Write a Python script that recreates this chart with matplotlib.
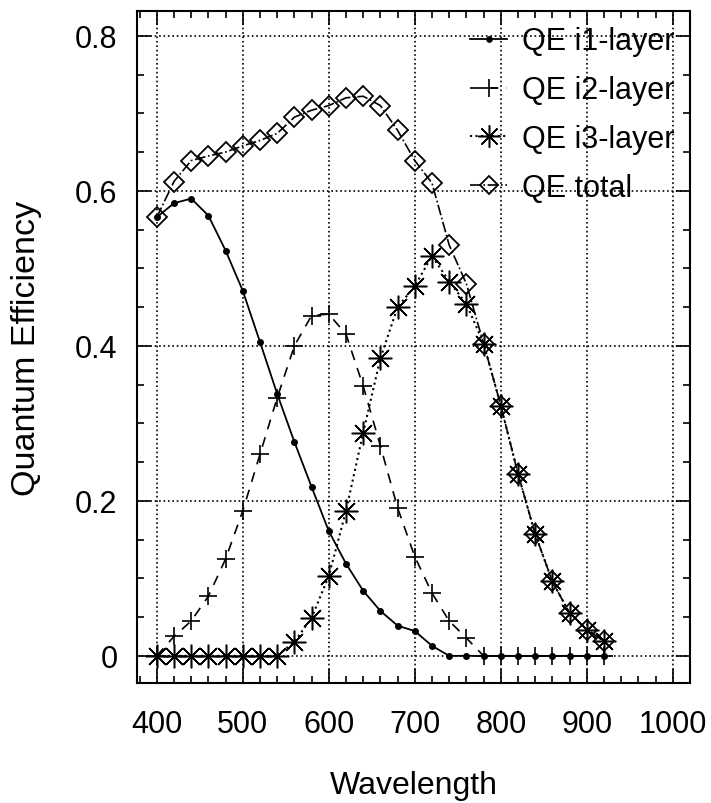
import matplotlib
matplotlib.use("Agg")
import matplotlib.pyplot as plt
from matplotlib.ticker import MultipleLocator

plt.rcParams['font.family'] = ['Liberation Sans', 'DejaVu Sans']

# wavelength grid (nm)
wavelength = list(range(400, 940, 20))

qe_i1 = [0.566, 0.584, 0.590, 0.568, 0.523, 0.471, 0.405, 0.338, 0.276, 0.218,
         0.161, 0.119, 0.084, 0.058, 0.039, 0.032, 0.013, 0.0, 0.0, 0.0,
         0.0, 0.0, 0.0, 0.0, 0.0, 0.0, 0.0]
qe_i2 = [0.0, 0.025, 0.045, 0.077, 0.125, 0.187, 0.260, 0.333, 0.400, 0.439,
         0.441, 0.415, 0.348, 0.271, 0.191, 0.128, 0.081, 0.045, 0.023, 0.0,
         0.0, 0.0, 0.0, 0.0, 0.0, 0.0, 0.0]
qe_i3 = [0.0, 0.0, 0.0, 0.0, 0.0, 0.0, 0.0, 0.0, 0.018, 0.049,
         0.103, 0.187, 0.288, 0.384, 0.450, 0.477, 0.516, 0.483, 0.454, 0.403,
         0.323, 0.235, 0.157, 0.096, 0.055, 0.034, 0.019]
qe_total = [0.566, 0.612, 0.639, 0.645, 0.650, 0.658, 0.665, 0.674, 0.695, 0.704,
            0.710, 0.720, 0.722, 0.710, 0.678, 0.639, 0.610, 0.530, 0.480, 0.403,
            0.323, 0.235, 0.157, 0.096, 0.055, 0.034, 0.019]

fig = plt.figure(figsize=(7.11, 8.04), dpi=100)
ax = fig.add_axes([137 / 711, 1 - 684 / 804, (690 - 137) / 711, (684 - 12) / 804])

ax.plot(wavelength, qe_i1, '-', color='black', lw=1.3, marker='o', ms=4,
        label='QE i1-layer')
ax.plot(wavelength, qe_i2, '--', color='black', lw=1.2, marker='+', ms=13,
        mew=1.2, dashes=(6, 5), label='QE i2-layer')
ax.plot(wavelength, qe_i3, ':', color='black', lw=1.5, marker=(8, 2, 0), ms=17,
        mew=1.1, label='QE i3-layer')
ax.plot(wavelength, qe_total, '-.', color='black', lw=1.2, marker='D', ms=10,
        mfc='none', mew=1.3, label='QE total')

ax.set_xlim(377, 1020)
ax.set_ylim(-0.035, 0.832)
ax.xaxis.set_major_locator(MultipleLocator(100))
ax.xaxis.set_minor_locator(MultipleLocator(20))
ax.yaxis.set_minor_locator(MultipleLocator(0.05))
ax.set_yticks([0, 0.2, 0.4, 0.6, 0.8])
ax.set_yticklabels(['0', '0.2', '0.4', '0.6', '0.8'])

ax.grid(True, which='major', linestyle=':', color='black', lw=1.2)
ax.tick_params(which='both', direction='in', top=True, right=True,
               labelsize=22, width=1.2)
ax.tick_params(which='major', length=10)
ax.tick_params(axis='x', which='major', pad=19)
ax.tick_params(axis='y', which='major', pad=14)
ax.tick_params(which='minor', length=5)
for s in ax.spines.values():
    s.set_linewidth(1.5)

ax.set_xlabel('Wavelength', fontsize=23, labelpad=22)
ax.set_ylabel('Quantum Efficiency', fontsize=24.5, labelpad=24)

ax.legend(loc='upper right', frameon=False, fontsize=22, handlelength=1.2,
          handletextpad=0.5, labelspacing=0.62, borderaxespad=0.3,
          borderpad=0.2, markerscale=0.95)

fig.savefig('out.png', dpi=100)
